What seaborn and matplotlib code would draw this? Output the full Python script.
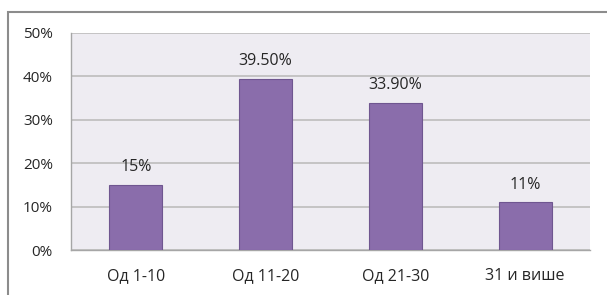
from matplotlib import pyplot as plt
from matplotlib.patches import Rectangle
from matplotlib.ticker import FixedLocator
import seaborn as sns
import pandas as pd

# data
categories = ['Од 1-10', 'Од 11-20', 'Од 21-30', '31 и више']
values = [15, 39.5, 33.9, 11]
bar_labels = ['15%', '39.50%', '33.90%', '11%']
y_ticks = [0, 10, 20, 30, 40, 50]

sns.set_style('white')
plt.rcParams['font.family'] = ['Open Sans', 'DejaVu Sans']

df = pd.DataFrame({'cat': categories, 'val': values})

fig = plt.figure(figsize=(6.07, 2.95), dpi=100)
ax = fig.add_axes([71 / 607, 45 / 295, 519 / 607, 217 / 295])

# outer chart frame (cropped on right and bottom)
frame = Rectangle((8 / 607, -0.1), 1.2, 0.1 + (295 - 12) / 295, transform=fig.transFigure,
                  fill=False, edgecolor='#8c8c8c', linewidth=1.5, clip_on=False)
fig.patches.append(frame)

ax.set_facecolor('#eeecf2')
sns.barplot(data=df, x='cat', y='val', color='#8a6dab', saturation=1, width=0.41,
            edgecolor='#6f5690', linewidth=0.8, ax=ax, zorder=3)

# value labels
for i, (v, lab) in enumerate(zip(values, bar_labels)):
    ax.annotate(lab, (i, v), xytext=(0, 7), textcoords='offset points',
                ha='center', va='bottom', fontsize=11.5, color='#262626')

ax.set_ylim(0, 50)
ax.set_xlim(-0.5, 3.5)
ax.set_yticks(y_ticks)
ax.set_yticklabels([f'{t}%' for t in y_ticks])
ax.yaxis.grid(True, color='#bdbdbd', linewidth=1.2, zorder=0)
ax.set_axisbelow(True)
ax.set_xlabel('')
ax.set_ylabel('')

# tick marks between categories
ax.xaxis.set_minor_locator(FixedLocator([-0.5, 0.5, 1.5, 2.5, 3.5]))
ax.tick_params(axis='x', which='major', length=0, pad=13, labelsize=11.5, labelcolor='#262626')
ax.tick_params(axis='x', which='minor', length=5, color='#a6a6a6', width=1)
ax.tick_params(axis='y', length=5, color='#a6a6a6', width=1, pad=8, labelsize=11, labelcolor='#262626')

for s in ['top', 'right']:
    ax.spines[s].set_visible(False)
for s in ['left', 'bottom']:
    ax.spines[s].set_color('#a6a6a6')
    ax.spines[s].set_linewidth(1)

fig.savefig('out.png', dpi=100)
